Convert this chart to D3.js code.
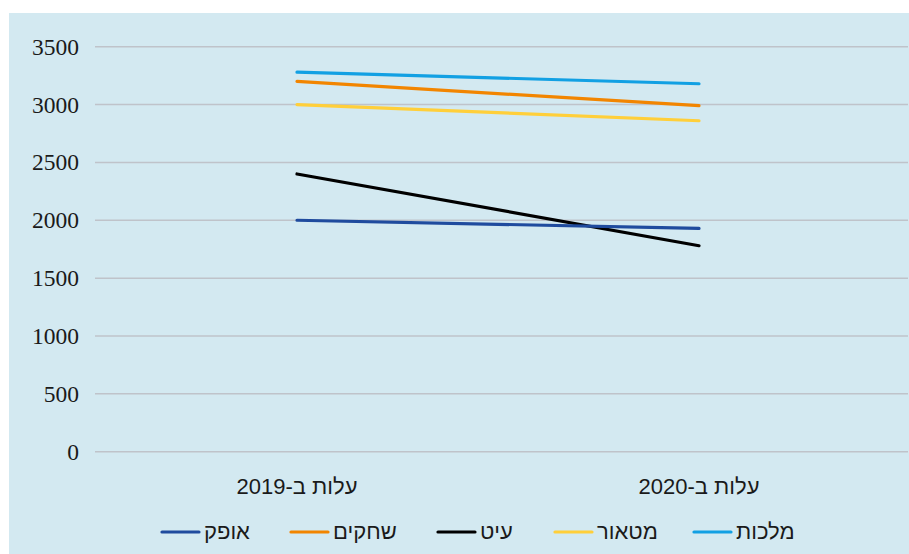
<!DOCTYPE html>
<html>
<head>
<meta charset="utf-8">
<script src="https://cdn.jsdelivr.net/npm/d3@7"></script>
<style>
body{margin:0;background:#fff;}
</style>
</head>
<body>
<div id="chart"></div>
<script>
// data
var categories = ["עלות ב-2019", "עלות ב-2020"];
var seriesNames = ["מלכות", "מטאור", "עיט", "שחקים", "אופק"];
var seriesColors = ["#12a0e3", "#ffcf3a", "#000000", "#f28500", "#1f4b9e"];
var valMalchut = [3280, 3180];
var valMeteor = [3000, 2860];
var valAyit = [2400, 1780];
var valShchakim = [3200, 2990];
var valOfek = [2000, 1930];
var yTicks = [0, 500, 1000, 1500, 2000, 2500, 3000, 3500];

var seriesValues = [valMalchut, valMeteor, valAyit, valShchakim, valOfek];

var W = 909, H = 554;

var svg = d3.select("#chart").append("svg")
    .attr("width", W)
    .attr("height", H);

// 배경
svg.append("rect")
    .attr("x", 9).attr("y", 13)
    .attr("width", W - 9).attr("height", H - 13)
    .style("fill", "#d3e9f1");

var y = d3.scaleLinear().domain([0, 3500]).range([451.7, 46.7]);
var x = d3.scaleBand().domain(categories).range([96, 900]).padding(0);

// grid
svg.selectAll(".grid").data(yTicks).enter().append("line")
    .attr("class", "grid")
    .attr("x1", 95).attr("x2", 908)
    .attr("y1", function(d){ return y(d); })
    .attr("y2", function(d){ return y(d); })
    .style("stroke", "#bfc3ca")
    .style("stroke-width", 1.5);

svg.selectAll(".yLabel").data(yTicks).enter().append("text")
    .attr("class", "yLabel")
    .attr("x", 79)
    .attr("y", function(d){ return y(d) + 8; })
    .attr("text-anchor", "end")
    .style("font-family", "'Liberation Serif', 'Times New Roman', serif")
    .style("font-size", "23.5px")
    .style("fill", "#1a1a1a")
    .text(function(d){ return d; });

svg.selectAll(".xLabel").data(categories).enter().append("text")
    .attr("class", "xLabel")
    .attr("x", function(d){ return x(d) + x.bandwidth()/2; })
    .attr("y", 494)
    .attr("text-anchor", "middle")
    .style("font-family", "'Liberation Sans', Arial, sans-serif")
    .style("font-size", "22px")
    .style("fill", "#1a1a1a")
    .text(function(d){ return d; });

var line = d3.line()
    .x(function(d, i){ return x(categories[i]) + x.bandwidth()/2; })
    .y(function(d){ return y(d); });

svg.selectAll(".series").data(seriesValues).enter().append("path")
    .attr("class", "series")
    .attr("d", line)
    .style("fill", "none")
    .style("stroke", function(d, i){ return seriesColors[i]; })
    .style("stroke-width", 3.2)
    .style("stroke-linecap", "round");

// legend (RTL: first series on the right)
var legendX = [693, 554, 437, 290, 161];
var legend = svg.selectAll(".legend").data(seriesNames).enter().append("g")
    .attr("class", "legend")
    .attr("transform", function(d, i){ return "translate(" + legendX[i] + ",532)"; });

legend.append("line")
    .attr("x1", 1).attr("x2", 38)
    .attr("y1", 0).attr("y2", 0)
    .style("stroke", function(d, i){ return seriesColors[i]; })
    .style("stroke-width", 3.2)
    .style("stroke-linecap", "round");

legend.append("text")
    .attr("x", 43)
    .attr("y", 7)
    .style("font-family", "'Liberation Sans', Arial, sans-serif")
    .style("font-size", "22px")
    .style("fill", "#1a1a1a")
    .text(function(d){ return d; });
</script>
</body>
</html>
